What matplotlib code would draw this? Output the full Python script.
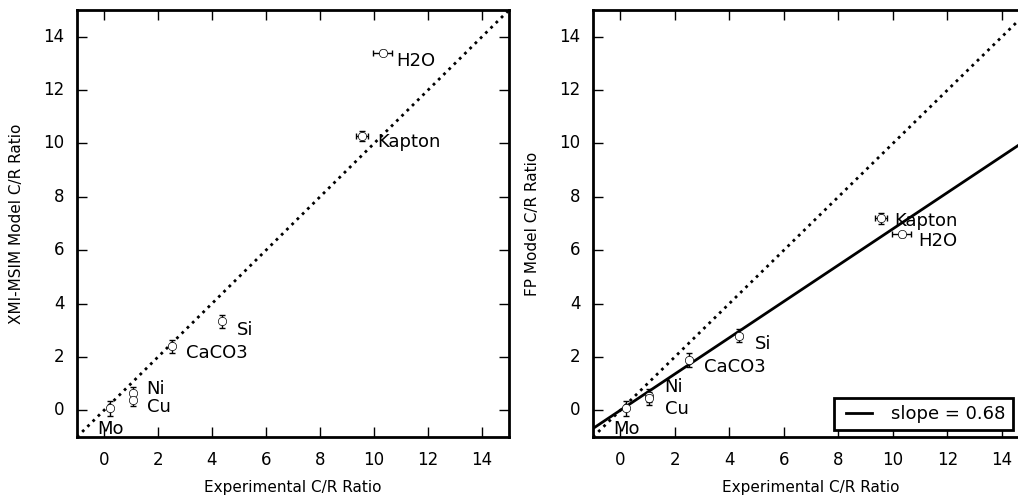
import matplotlib

matplotlib.use("Agg")
import matplotlib.pyplot as plt
import numpy as np

# samples and measured / modelled C/R ratios
samples = ["Mo", "Ni", "Cu", "CaCO3", "Si", "Kapton", "H2O"]
exp_ratio = [0.22, 1.07, 1.07, 2.52, 4.37, 9.55, 10.32]
exp_err = [0.03, 0.03, 0.03, 0.08, 0.08, 0.22, 0.35]
xmi_ratio = [0.08, 0.65, 0.38, 2.40, 3.33, 10.28, 13.40]
xmi_err = [0.28, 0.22, 0.22, 0.25, 0.25, 0.20, 0.10]
fp_ratio = [0.08, 0.55, 0.45, 1.88, 2.80, 7.20, 6.60]
fp_err = [0.28, 0.25, 0.25, 0.25, 0.25, 0.20, 0.10]
fp_slope = 0.68

# label offsets (points), per panel
left_offsets = [(-9, -15), (10, 3), (10, -5), (10, -5), (11, -6), (11, -4), (10, -6)]
right_offsets = [(-9, -15), (11, 6), (11, -8), (11, -5), (11, -6), (10, -2), (12, -5)]

plt.style.use("classic")
plt.rcParams.update({
    "figure.facecolor": "white",
    "savefig.facecolor": "white",
    "axes.linewidth": 2.0,
    "lines.scale_dashes": False,
    "xtick.major.size": 7,
    "ytick.major.size": 7,
    "xtick.major.width": 1.0,
    "ytick.major.width": 1.0,
    "xtick.major.pad": 10,
    "ytick.major.pad": 9,
    "font.size": 11,
    "xtick.labelsize": 12,
    "ytick.labelsize": 12,
    "font.family": "DejaVu Sans",
})

fig = plt.figure(figsize=(10.18, 4.99), dpi=100)
ax1 = fig.add_axes([0.0756, 0.1242, 0.4244, 0.8557])
ax2 = fig.add_axes([0.5825, 0.1242, 0.4285, 0.8557])

line = np.array([-1, 15])


def panel(ax, model, model_err, offsets, ylabel):
    ax.plot(line, line, color="k", linewidth=2, dashes=(2, 3.3))
    ax.errorbar(exp_ratio, model, xerr=exp_err, yerr=model_err, fmt="o",
                color="k", mfc="white", mec="k", ms=6, capsize=2.5,
                elinewidth=1, capthick=1, zorder=3)
    for name, x, y, off in zip(samples, exp_ratio, model, offsets):
        ax.annotate(name, (x, y), xytext=off, textcoords="offset points",
                    ha="left", va="center", fontsize=13)
    ax.set_xlim(-1, 15)
    ax.set_ylim(-1, 15)
    ax.set_xticks(range(0, 15, 2))
    ax.set_yticks(range(0, 15, 2))
    ax.set_xlabel("Experimental C/R Ratio", fontsize=11, labelpad=8)
    ax.set_ylabel(ylabel, fontsize=11, labelpad=14)


panel(ax1, xmi_ratio, xmi_err, left_offsets, "XMI-MSIM Model C/R Ratio")
panel(ax2, fp_ratio, fp_err, right_offsets, "FP Model C/R Ratio")
ax2.plot(line, fp_slope * line, "-", color="k", linewidth=2,
         label=f"slope = {fp_slope}")
leg = ax2.legend(loc="lower right", bbox_to_anchor=(0.963, 0.016),
                 borderaxespad=0, fontsize=13, handlelength=2.0)
leg.get_frame().set_linewidth(2)

fig.savefig("out.png", dpi=100)
